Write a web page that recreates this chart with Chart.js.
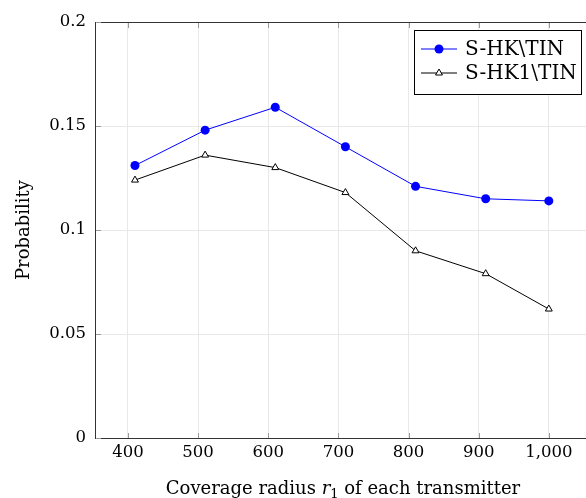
<!DOCTYPE html>
<html>
<head>
<meta charset="utf-8">
<script src="https://cdn.jsdelivr.net/npm/chart.js@4.4.1/dist/chart.umd.min.js"></script>
<style>
  html, body { margin: 0; padding: 0; background: #fff; }
  #wrap { width: 586px; height: 498px; }
</style>
</head>
<body>
<div id="wrap"><canvas id="chart"></canvas></div>
<script>
// Coverage radius r1 (x values)
const radius = [410, 510, 610, 710, 810, 910, 1000];
// Probability for each scheme
const shkTin = [0.131, 0.148, 0.159, 0.140, 0.121, 0.115, 0.114];
const shk1Tin = [0.124, 0.136, 0.130, 0.118, 0.090, 0.079, 0.062];
// Tick values
const xTicks = [400, 500, 600, 700, 800, 900, 1000];
const yTicks = [0, 0.05, 0.1, 0.15, 0.2];

const FONT = 'DejaVu Serif';

const toPoints = (ys) => radius.map((x, i) => ({ x, y: ys[i] }));

// Box frame, inward tick marks, axis titles and legend box
const framePlugin = {
  id: 'frame',
  afterDraw(chart) {
    const { ctx, chartArea: a, scales } = chart;
    ctx.save();

    // frame (right side runs off the canvas like the reference)
    ctx.strokeStyle = '#333';
    ctx.lineWidth = 1;
    ctx.strokeRect(a.left + 0.5, a.top + 0.5, a.right - a.left + 10, a.bottom - a.top);

    // inward ticks
    ctx.strokeStyle = '#999';
    xTicks.forEach((v) => {
      const px = Math.round(scales.x.getPixelForValue(v)) + 0.5;
      ctx.beginPath();
      ctx.moveTo(px, a.bottom); ctx.lineTo(px, a.bottom - 5);
      ctx.moveTo(px, a.top + 1); ctx.lineTo(px, a.top + 6);
      ctx.stroke();
    });
    yTicks.forEach((v) => {
      const py = Math.round(scales.y.getPixelForValue(v)) + 0.5;
      ctx.beginPath();
      ctx.moveTo(a.left + 1, py); ctx.lineTo(a.left + 6, py);
      ctx.stroke();
    });

    // x title with italic r and subscript 1
    ctx.fillStyle = '#000';
    ctx.textBaseline = 'alphabetic';
    const parts = [
      { t: 'Coverage radius ', f: `18px "${FONT}"`, dy: 0 },
      { t: 'r', f: `italic 18px "${FONT}"`, dy: 0 },
      { t: '1', f: `13px "${FONT}"`, dy: 4 },
      { t: ' of each transmitter', f: `18px "${FONT}"`, dy: 0 },
    ];
    let total = 0;
    parts.forEach((p) => { ctx.font = p.f; p.w = ctx.measureText(p.t).width; total += p.w; });
    let tx = (a.left + 591) / 2 - total / 2;
    parts.forEach((p) => {
      ctx.font = p.f;
      ctx.fillText(p.t, tx, 494 + p.dy);
      tx += p.w;
    });

    // y title
    ctx.save();
    ctx.translate(24, (a.top + a.bottom) / 2);
    ctx.rotate(-Math.PI / 2);
    ctx.font = `18px "${FONT}"`;
    ctx.textAlign = 'center';
    ctx.textBaseline = 'middle';
    ctx.fillText('Probability', 0, 0);
    ctx.restore();

    // legend
    const bx = 414.5, by = 30.5, bw = 167, bh = 64;
    ctx.fillStyle = '#fff';
    ctx.fillRect(bx, by, bw, bh);
    ctx.strokeStyle = '#000';
    ctx.lineWidth = 1;
    ctx.strokeRect(bx, by, bw, bh);
    ctx.font = `20px "${FONT}"`;
    ctx.textBaseline = 'middle';
    ctx.textAlign = 'left';
    chart.data.datasets.forEach((ds, i) => {
      const cy = 49 + i * 24;
      const x0 = 421, x1 = 457, cx = 439;
      ctx.strokeStyle = ds.borderColor;
      ctx.lineWidth = ds.borderWidth;
      ctx.beginPath();
      ctx.moveTo(x0, cy); ctx.lineTo(x1, cy);
      ctx.stroke();
      ctx.fillStyle = ds.pointBackgroundColor;
      ctx.strokeStyle = ds.pointBorderColor;
      ctx.lineWidth = ds.pointBorderWidth;
      Chart.helpers.drawPoint(ctx, {
        pointStyle: ds.pointStyle,
        radius: ds.pointRadius,
        borderWidth: ds.pointBorderWidth,
      }, cx, cy);
      ctx.fillStyle = '#000';
      ctx.fillText(ds.label, 465, cy + 1);
    });
    ctx.restore();
  },
};

new Chart(document.getElementById('chart'), {
  type: 'line',
  data: {
    datasets: [
      {
        label: 'S-HK\\TIN',
        data: toPoints(shkTin),
        borderColor: '#0000ff',
        backgroundColor: '#0000ff',
        borderWidth: 1,
        pointStyle: 'circle',
        pointRadius: 4.5,
        pointBackgroundColor: '#0000ff',
        pointBorderColor: '#0000ff',
        pointBorderWidth: 0,
        tension: 0,
      },
      {
        label: 'S-HK1\\TIN',
        data: toPoints(shk1Tin),
        borderColor: '#000000',
        backgroundColor: '#ffffff',
        borderWidth: 1,
        pointStyle: 'triangle',
        pointRadius: 4,
        pointBackgroundColor: '#ffffff',
        pointBorderColor: '#000000',
        pointBorderWidth: 1,
        tension: 0,
      },
    ],
  },
  options: {
    responsive: true,
    maintainAspectRatio: false,
    animation: false,
    // plot runs to the right canvas edge, so no auto padding for point overflow
    layout: { autoPadding: false, padding: { top: 22, right: 0, left: 0, bottom: 0 } },
    plugins: {
      legend: { display: false },
      tooltip: { enabled: false },
    },
    scales: {
      x: {
        type: 'linear',
        min: 353,
        max: 1053,
        afterBuildTicks: (s) => { s.ticks = xTicks.map((v) => ({ value: v })); },
        afterFit: (s) => {
          s.height = 60;
          s.paddingLeft = 0;
          s.paddingRight = 0;
        },
        ticks: {
          color: '#000',
          font: { family: FONT, size: 16.5 },
          padding: 5,
          maxRotation: 0,
          callback: (v) => v.toLocaleString('en-US'),
        },
        grid: { color: '#e8e8e8', drawTicks: false },
        border: { display: false },
        title: { display: false },
      },
      y: {
        type: 'linear',
        min: 0,
        max: 0.2,
        afterBuildTicks: (s) => { s.ticks = yTicks.map((v) => ({ value: v })); },
        afterFit: (s) => { s.width = 95; },
        ticks: {
          color: '#000',
          font: { family: FONT, size: 16.5 },
          padding: 9,
          callback: (v) => String(v),
        },
        grid: { color: '#e8e8e8', drawTicks: false },
        border: { display: false },
        title: { display: false },
      },
    },
  },
  plugins: [framePlugin],
});
</script>
</body>
</html>
